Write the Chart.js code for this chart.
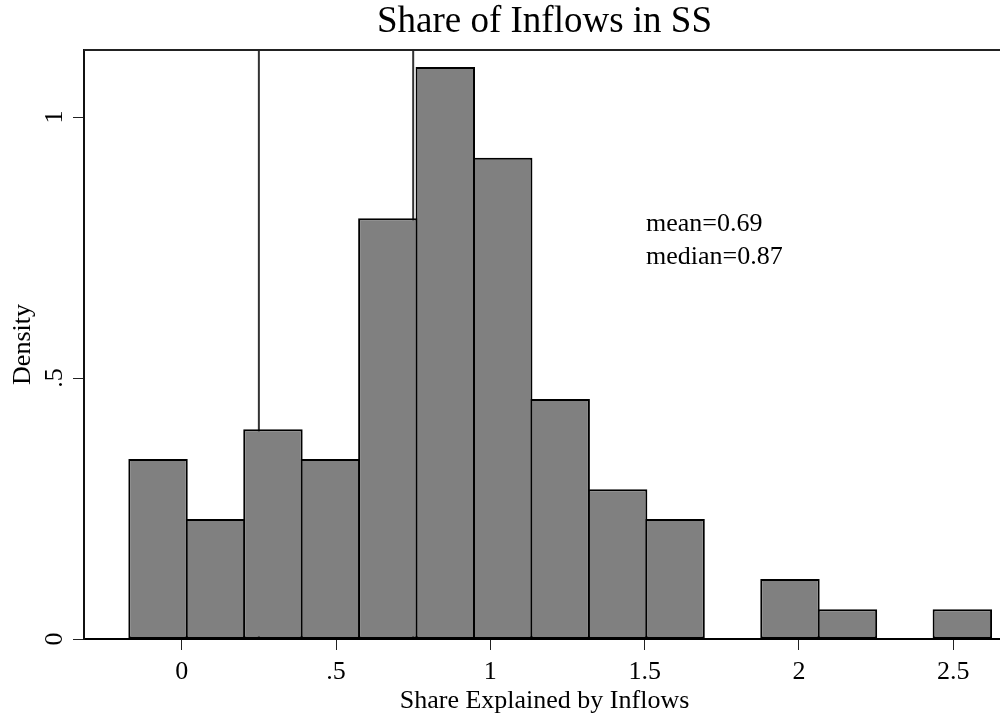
<!DOCTYPE html>
<html>
<head>
<meta charset="utf-8">
<script src="https://cdn.jsdelivr.net/npm/chart.js@4"></script>
<style>
  html, body { margin: 0; padding: 0; background: #fff; overflow: hidden; }
  #wrap { width: 1005px; height: 719px; }
</style>
</head>
<body>
<div id="wrap"><canvas id="hist"></canvas></div>
<script>
// histogram bins (centre of each bin) and density heights
const binCenters = [-0.0767, 0.1094, 0.2956, 0.4817, 0.6679, 0.8540, 1.0401, 1.2263,
                    1.4124, 1.5986, 1.7847, 1.9708, 2.1570, 2.3431, 2.5293];
const densities = [0.345, 0.230, 0.402, 0.345, 0.806, 1.096, 0.922, 0.460,
                   0.287, 0.230, 0, 0.115, 0.057, 0, 0.057];

// vertical reference lines
const refLines = [0.25, 0.75];

// ticks
const xTickVals = [0, 0.5, 1, 1.5, 2, 2.5];
const xTickLabels = ['0', '.5', '1', '1.5', '2', '2.5'];
const yTickVals = [0, 0.5, 1];
const yTickLabels = ['0', '.5', '1'];

const noteLines = ['mean=0.69', 'median=0.87'];

const X_MIN = -0.3166, X_MAX = 2.6675, Y_MAX = 1.1284;
const SERIF = "'Liberation Serif', 'Times New Roman', serif";

// top frame, rotated y tick labels and the mean/median note
const extras = {
    id: 'extras',
    afterDraw(chart) {
        const ctx = chart.ctx;
        const area = chart.chartArea;
        const xs = chart.scales.x, ys = chart.scales.y;
        ctx.save();
        ctx.strokeStyle = '#222';
        ctx.lineWidth = 2;
        ctx.beginPath();
        ctx.moveTo(area.left, area.top);
        ctx.lineTo(area.right, area.top);
        ctx.stroke();

        ctx.fillStyle = '#000';
        ctx.font = '26px ' + SERIF;
        ctx.textAlign = 'center';
        ctx.textBaseline = 'alphabetic';
        yTickVals.forEach((v, i) => {
            const py = ys.getPixelForValue(v);
            ctx.save();
            ctx.translate(62, py);
            ctx.rotate(-Math.PI / 2);
            ctx.fillText(yTickLabels[i], 0, 0);
            ctx.restore();
        });

        ctx.textAlign = 'left';
        const nx = xs.getPixelForValue(1.5043);
        const ny = ys.getPixelForValue(0.781);
        noteLines.forEach((t, i) => ctx.fillText(t, nx, ny + i * 32.3));
        ctx.restore();
    }
};

const datasets = [{
    type: 'bar',
    data: binCenters.map((c, i) => ({ x: c, y: densities[i] })),
    backgroundColor: '#808080',
    borderColor: '#000',
    borderWidth: 2,
    borderSkipped: false,
    barPercentage: 1.035,
    categoryPercentage: 1,
    order: 1
}];
refLines.forEach(v => {
    datasets.push({
        type: 'line',
        data: [{ x: v, y: 0 }, { x: v, y: Y_MAX }],
        borderColor: '#333',
        borderWidth: 2,
        pointRadius: 0,
        order: 2
    });
});

new Chart(document.getElementById('hist'), {
    type: 'bar',
    data: { datasets },
    options: {
        responsive: true,
        maintainAspectRatio: false,
        animation: false,
        devicePixelRatio: 1,
        layout: { padding: 0 },
        plugins: {
            legend: { display: false },
            tooltip: { enabled: false },
            title: {
                display: true,
                text: 'Share of Inflows in SS',
                fullSize: false,
                color: '#000',
                font: { family: SERIF, size: 37, weight: 'normal', lineHeight: 1.2 },
                padding: { top: 0, bottom: 5.6 }
            }
        },
        scales: {
            x: {
                type: 'linear',
                min: X_MIN,
                max: X_MAX,
                offset: false,
                grid: { drawOnChartArea: false, offset: false, tickLength: 11, tickColor: '#222', tickWidth: 1 },
                border: { color: '#000', width: 2, z: 1 },
                afterBuildTicks: s => { s.ticks = xTickVals.map(v => ({ value: v })); },
                afterFit: s => { s.height = 80; },
                ticks: {
                    color: '#000',
                    padding: 6.3,
                    maxRotation: 0,
                    font: { family: SERIF, size: 26 },
                    callback: v => xTickLabels[xTickVals.indexOf(v)]
                },
                title: {
                    display: true,
                    text: 'Share Explained by Inflows',
                    color: '#000',
                    font: { family: SERIF, size: 26 },
                    padding: { top: 0, bottom: 2.2 }
                }
            },
            y: {
                min: 0,
                max: Y_MAX,
                grid: { drawOnChartArea: false, tickLength: 11, tickColor: '#222', tickWidth: 1 },
                border: { color: '#111', width: 2, z: 1 },
                afterBuildTicks: s => { s.ticks = yTickVals.map(v => ({ value: v })); },
                afterFit: s => { s.width = 84; },
                ticks: { color: 'rgba(0,0,0,0)', font: { family: SERIF, size: 26 } },
                title: {
                    display: true,
                    text: 'Density',
                    color: '#000',
                    font: { family: SERIF, size: 26 },
                    padding: { top: 7.1, bottom: 0 }
                }
            }
        }
    },
    plugins: [extras]
});
</script>
</body>
</html>
